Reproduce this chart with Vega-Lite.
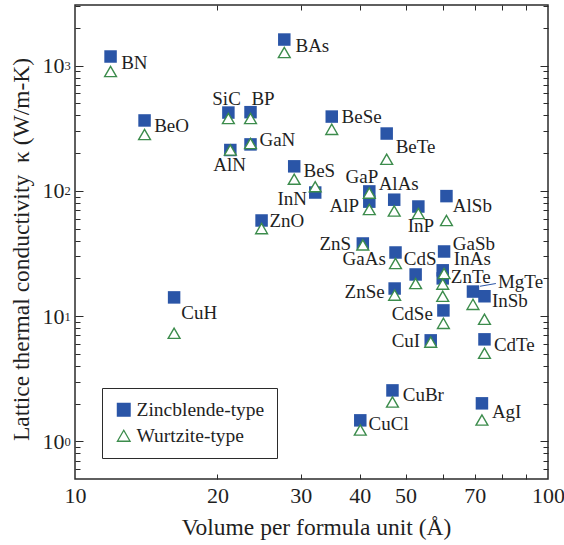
{
  "$schema": "https://vega.github.io/schema/vega-lite/v6.json",
  "width": 473,
  "height": 474,
  "autosize": "none",
  "padding": {"left": 75, "top": 5, "right": 16, "bottom": 66},
  "background": "white",
  "datasets": {
    "kappa": [
      {"m": "BN", "V": 11.89, "zb": 1183, "wz": 898},
      {"m": "BeO", "V": 14.03, "zb": 365, "wz": 282},
      {"m": "SiC", "V": 21.1, "zb": 422, "wz": 378},
      {"m": "BP", "V": 23.5, "zb": 425, "wz": 378},
      {"m": "AlN", "V": 21.3, "zb": 212, "wz": 212},
      {"m": "GaN", "V": 23.5, "zb": 235, "wz": 239},
      {"m": "BAs", "V": 27.7, "zb": 1616, "wz": 1273},
      {"m": "BeS", "V": 29.07, "zb": 157, "wz": 124},
      {"m": "InN", "V": 32.2, "zb": 97, "wz": 108},
      {"m": "ZnO", "V": 24.8, "zb": 58, "wz": 50},
      {"m": "BeSe", "V": 34.9, "zb": 392, "wz": 310},
      {"m": "BeTe", "V": 45.6, "zb": 287, "wz": 179},
      {"m": "GaP", "V": 41.9, "zb": 99, "wz": 96},
      {"m": "AlP", "V": 41.9, "zb": 82, "wz": 71},
      {"m": "AlAs", "V": 47.3, "zb": 85, "wz": 69},
      {"m": "InP", "V": 53.2, "zb": 75, "wz": 66},
      {"m": "AlSb", "V": 61.0, "zb": 90.8, "wz": 58},
      {"m": "ZnS", "V": 40.6, "zb": 38, "wz": 37},
      {"m": "GaAs", "V": 47.6, "zb": 32.2, "wz": 26.3},
      {"m": "CdS", "V": 52.5, "zb": 21.5, "wz": 18.2},
      {"m": "GaSb", "V": 60.3, "zb": 32.8, "wz": 21.9},
      {"m": "InAs", "V": 59.9, "zb": 23.2, "wz": 18.0},
      {"m": "ZnTe", "V": 59.9, "zb": 20.0, "wz": 14.4},
      {"m": "ZnSe", "V": 47.4, "zb": 16.6, "wz": 14.7},
      {"m": "CdSe", "V": 60.1, "zb": 11.1, "wz": 8.75},
      {"m": "CuI", "V": 56.5, "zb": 6.4, "wz": 6.2},
      {"m": "CdTe", "V": 73.4, "zb": 6.52, "wz": 5.05},
      {"m": "MgTe", "V": 69.4, "zb": 15.7, "wz": 12.4},
      {"m": "InSb", "V": 73.4, "zb": 14.4, "wz": 9.43},
      {"m": "CuBr", "V": 46.9, "zb": 2.55, "wz": 2.06},
      {"m": "AgI", "V": 72.5, "zb": 2.01, "wz": 1.48},
      {"m": "CuCl", "V": 40.1, "zb": 1.47, "wz": 1.23},
      {"m": "CuH", "V": 16.2, "zb": 14.1, "wz": 7.29}
    ],
    "names": [
      {"m": "BN", "lx": 12.52, "ly": 1059},
      {"m": "BeO", "lx": 14.7, "ly": 327},
      {"m": "SiC", "lx": 19.51, "ly": 546},
      {"m": "BP", "lx": 23.6, "ly": 546},
      {"m": "AlN", "lx": 19.6, "ly": 160},
      {"m": "GaN", "lx": 24.54, "ly": 253},
      {"m": "BAs", "lx": 29.25, "ly": 1447},
      {"m": "BeSe", "lx": 36.61, "ly": 389},
      {"m": "BeTe", "lx": 47.64, "ly": 226},
      {"m": "BeS", "lx": 30.41, "ly": 143},
      {"m": "InN", "lx": 26.79, "ly": 85.4},
      {"m": "ZnO", "lx": 25.76, "ly": 57.0},
      {"m": "GaP", "lx": 37.33, "ly": 128},
      {"m": "AlAs", "lx": 43.85, "ly": 112.5},
      {"m": "AlP", "lx": 34.52, "ly": 75.1},
      {"m": "InP", "lx": 50.51, "ly": 52.0},
      {"m": "AlSb", "lx": 62.92, "ly": 75.1},
      {"m": "ZnS", "lx": 32.88, "ly": 37.4},
      {"m": "GaAs", "lx": 36.79, "ly": 28.4},
      {"m": "CdS", "lx": 49.54, "ly": 28.4},
      {"m": "GaSb", "lx": 62.92, "ly": 37.4},
      {"m": "InAs", "lx": 63.23, "ly": 28.4},
      {"m": "ZnTe", "lx": 62.32, "ly": 20.7},
      {"m": "MgTe", "lx": 78.38, "ly": 18.6},
      {"m": "InSb", "lx": 76.1, "ly": 13.1},
      {"m": "ZnSe", "lx": 37.15, "ly": 15.5},
      {"m": "CdSe", "lx": 46.72, "ly": 10.3},
      {"m": "CuI", "lx": 46.72, "ly": 6.28},
      {"m": "CdTe", "lx": 76.84, "ly": 5.84},
      {"m": "CuBr", "lx": 49.3, "ly": 2.33},
      {"m": "AgI", "lx": 76.1, "ly": 1.7},
      {"m": "CuCl", "lx": 41.76, "ly": 1.37},
      {"m": "CuH", "lx": 16.77, "ly": 10.5}
    ],
    "leader": [
      {"m": "MgTe", "x1": 71.8, "x2": 77.6, "y1": 17.3, "y2": 18.2}
    ]
  },
  "layer": [
    {
      "data": {"name": "kappa"},
      "mark": {"type": "point", "filled": true, "size": 156, "strokeWidth": 0, "opacity": 1},
      "encoding": {
        "x": {
          "field": "V", "type": "quantitative",
          "scale": {"type": "log", "domain": [10, 100], "nice": false},
          "axis": {
            "orient": "bottom", "values": [10, 20, 30, 40, 50, 70, 100], "format": "d",
            "ticks": false, "tickSize": 0, "labelPadding": 6, "labelFontSize": 22,
            "labelFlush": false, "labelOverlap": false,
            "title": "Volume per formula unit (Å)", "titleFontSize": 23.5,
            "titleBaseline": "middle", "titleY": 48, "titleX": 241
          }
        },
        "y": {
          "field": "zb", "type": "quantitative",
          "scale": {"type": "log", "domain": [0.5, 3050], "nice": false},
          "axis": {
            "orient": "left", "values": [1, 10, 100, 1000], "labelExpr": "'10'",
            "ticks": false, "tickSize": 0, "labelPadding": 11, "labelFontSize": 22,
            "labelDy": 1.5, "labelFlush": false, "labelOverlap": false,
            "title": "Lattice thermal conductivity\u00a0 κ (W/m-K)", "titleFontSize": 23.5,
            "titleX": -54, "titleY": 244, "titleBaseline": "middle", "titleAngle": 270
          }
        },
        "shape": {"datum": "Zincblende-type", "type": "nominal",
          "scale": {"domain": ["Zincblende-type", "Wurtzite-type"], "range": ["square", "triangle-up"]},
          "legend": {"title": null}},
        "fill": {"datum": "Zincblende-type", "type": "nominal",
          "scale": {"domain": ["Zincblende-type", "Wurtzite-type"], "range": ["#2A55A7", "#ffffff"]},
          "legend": {"title": null}},
        "stroke": {"datum": "Zincblende-type", "type": "nominal",
          "scale": {"domain": ["Zincblende-type", "Wurtzite-type"], "range": ["#2A55A7", "#3C8C4C"]},
          "legend": {"title": null}}
      }
    },
    {
      "data": {"name": "kappa"},
      "mark": {"type": "point", "filled": true, "size": 140, "strokeWidth": 1.4, "opacity": 1},
      "encoding": {
        "x": {
          "field": "V", "type": "quantitative",
          "scale": {"type": "log", "domain": [10, 100], "nice": false},
          "axis": {"orient": "bottom", "values": [20, 30, 40, 50, 60, 70, 80, 90],
            "labels": false, "tickSize": -5, "title": null}
        },
        "y": {
          "field": "wz", "type": "quantitative",
          "scale": {"type": "log", "domain": [0.5, 3050], "nice": false},
          "axis": {
            "orient": "left", "values": [1, 10, 100, 1000],
            "labelExpr": "'' + round(log(datum.value) / LN10)",
            "ticks": false, "tickSize": 0, "labelPadding": 11, "labelAlign": "left",
            "labelFontSize": 12.5, "labelDy": -2.5, "labelFlush": false, "labelOverlap": false,
            "title": null
          }
        },
        "shape": {"datum": "Wurtzite-type", "type": "nominal"},
        "fill": {"datum": "Wurtzite-type", "type": "nominal"},
        "stroke": {"datum": "Wurtzite-type", "type": "nominal"}
      }
    },
    {
      "data": {"name": "names"},
      "mark": {"type": "text", "align": "left", "baseline": "middle", "fontSize": 19, "color": "#1f1f1f",
        "font": "Times New Roman, Liberation Serif, Times, serif"},
      "encoding": {
        "x": {
          "field": "lx", "type": "quantitative",
          "scale": {"type": "log", "domain": [10, 100], "nice": false},
          "axis": {"orient": "top", "values": [20, 30, 40, 50, 60, 70, 80, 90],
            "labels": false, "tickSize": -5, "title": null}
        },
        "y": {
          "field": "ly", "type": "quantitative",
          "scale": {"type": "log", "domain": [0.5, 3050], "nice": false},
          "axis": {
            "orient": "left",
            "values": [0.6, 0.7, 0.8, 0.9, 1, 2, 3, 4, 5, 6, 7, 8, 9, 10, 20, 30, 40, 50, 60, 70, 80, 90, 100, 200, 300, 400, 500, 600, 700, 800, 900, 1000, 2000, 3000],
            "labels": false, "title": null,
            "tickSize": {"condition": {"test": "indexof([1, 10, 100, 1000], datum.value) >= 0", "value": -8}, "value": -5}
          }
        },
        "text": {"field": "m", "type": "nominal"}
      }
    },
    {
      "data": {"name": "leader"},
      "mark": {"type": "rule", "color": "#2A55A7", "strokeWidth": 1},
      "encoding": {
        "x": {"field": "x1", "type": "quantitative",
          "scale": {"type": "log", "domain": [10, 100], "nice": false}, "axis": null},
        "x2": {"field": "x2"},
        "y": {
          "field": "y1", "type": "quantitative",
          "scale": {"type": "log", "domain": [0.5, 3050], "nice": false},
          "axis": {
            "orient": "right",
            "values": [0.6, 0.7, 0.8, 0.9, 1, 2, 3, 4, 5, 6, 7, 8, 9, 10, 20, 30, 40, 50, 60, 70, 80, 90, 100, 200, 300, 400, 500, 600, 700, 800, 900, 1000, 2000, 3000],
            "labels": false, "title": null,
            "tickSize": {"condition": {"test": "indexof([1, 10, 100, 1000], datum.value) >= 0", "value": -8}, "value": -5}
          }
        },
        "y2": {"field": "y2"}
      }
    }
  ],
  "resolve": {"axis": {"x": "independent", "y": "independent"}},
  "config": {
    "font": "Times New Roman, Liberation Serif, Times, serif",
    "view": {"stroke": "#2b2b2b", "strokeWidth": 1.5},
    "axis": {
      "domain": false, "grid": false,
      "labelFont": "Times New Roman, Liberation Serif, Times, serif", "labelColor": "#1f1f1f",
      "titleFont": "Times New Roman, Liberation Serif, Times, serif", "titleColor": "#1f1f1f", "titleFontWeight": "normal",
      "tickColor": "#2b2b2b", "tickWidth": 1
    },
    "legend": {
      "orient": "none", "legendX": 27, "legendY": 383,
      "fillColor": "white", "strokeColor": "#2b2b2b", "strokeWidth": 1,
      "padding": 12, "rowPadding": 5, "labelOffset": 3,
      "labelFont": "Times New Roman, Liberation Serif, Times, serif", "labelFontSize": 19.5, "labelColor": "#1f1f1f",
      "symbolSize": 160, "symbolStrokeWidth": 1.3, "labelLimit": 300
    }
  }
}
